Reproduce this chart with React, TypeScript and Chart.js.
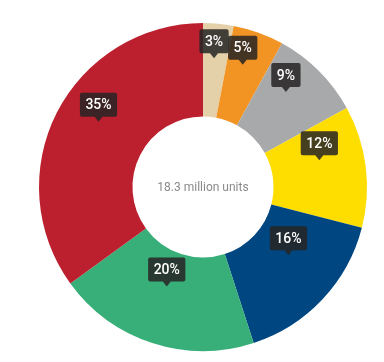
import React, { useEffect, useRef } from "react";
import { Chart, registerables } from "chart.js";

Chart.register(...registerables);

const categories = ["Segment A", "Segment B", "Segment C", "Segment D", "Segment E", "Segment F", "Segment G"];
const shares = [3, 5, 9, 12, 16, 20, 35];
const colors = ["#E4D0A9", "#F29423", "#A8A9AB", "#FEDD00", "#004680", "#38AF78", "#BC202E"];
const centerText = "18.3 million units";

const labelPlugin = {
  id: "calloutLabels",
  afterDatasetsDraw(chart: any) {
    const ctx = chart.ctx;
    const meta = chart.getDatasetMeta(0);
    ctx.save();
    const first = meta.data[0];
    ctx.fillStyle = "#8a8a8a";
    ctx.font = "12px Roboto";
    ctx.textAlign = "center";
    ctx.textBaseline = "middle";
    ctx.fillText(centerText, first.x, first.y + 1);

    meta.data.forEach((arc: any, i: number) => {
      const pos = arc.tooltipPosition();
      const text = shares[i] + "%";
      ctx.font = "500 14px Roboto";
      const w = ctx.measureText(text).width + 11;
      const h = 24;
      const tipY = pos.y - 12;
      const bottom = tipY - 5;
      const top = bottom - h;
      const left = pos.x - w / 2;
      ctx.fillStyle = "rgba(38,36,36,0.86)";
      ctx.beginPath();
      const r = 2;
      ctx.moveTo(left + r, top);
      ctx.lineTo(left + w - r, top);
      ctx.quadraticCurveTo(left + w, top, left + w, top + r);
      ctx.lineTo(left + w, bottom - r);
      ctx.quadraticCurveTo(left + w, bottom, left + w - r, bottom);
      ctx.lineTo(pos.x + 4, bottom);
      ctx.lineTo(pos.x, tipY);
      ctx.lineTo(pos.x - 4, bottom);
      ctx.lineTo(left + r, bottom);
      ctx.quadraticCurveTo(left, bottom, left, bottom - r);
      ctx.lineTo(left, top + r);
      ctx.quadraticCurveTo(left, top, left + r, top);
      ctx.closePath();
      ctx.fill();
      ctx.fillStyle = "#ffffff";
      ctx.textAlign = "center";
      ctx.textBaseline = "middle";
      ctx.fillText(text, pos.x, (top + bottom) / 2 + 1);
    });
    ctx.restore();
  },
};

export default function App() {
  const ref = useRef<HTMLCanvasElement>(null);
  useEffect(() => {
    if (!ref.current) return;
    const chart = new Chart(ref.current, {
      type: "doughnut",
      data: {
        labels: categories,
        datasets: [
          {
            data: shares,
            backgroundColor: colors,
            borderWidth: 0,
          },
        ],
      },
      options: {
        responsive: false,
        animation: false,
        cutout: "43%",
        layout: { padding: { left: 39, right: 17, top: 23, bottom: 11 } },
        plugins: {
          legend: { display: false },
          tooltip: { enabled: false },
        },
      },
      plugins: [labelPlugin],
    });
    return () => chart.destroy();
  }, []);
  return (
    <div style={{ position: "absolute", left: 0, top: 0, width: 384, height: 362, background: "#fff" }}>
      <canvas ref={ref} width={384} height={362} style={{ width: 384, height: 362 }} />
    </div>
  );
}
